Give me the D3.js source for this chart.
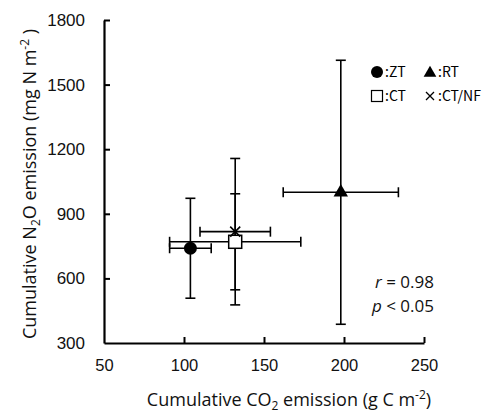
<!DOCTYPE html>
<html>
<head>
<meta charset="utf-8">
<script src="https://cdn.jsdelivr.net/npm/d3@7"></script>
<style>
  body { margin: 0; background: #fff; }
  svg { display: block; }
</style>
</head>
<body>
<div id="chart"></div>
<script>
// data
var treatments = ["ZT", "RT", "CT", "CT/NF"];
var co2 = [104, 198, 132, 132];
var co2Err = [13, 36, 41, 22];
var n2o = [740, 1000, 770, 817];
var n2oErr = [232, 613, 223, 340];
var xTicks = [50, 100, 150, 200, 250];
var yTicks = [300, 600, 900, 1200, 1500, 1800];

var W = 500, H = 414;
var svg = d3.select("#chart").append("svg").attr("width", W).attr("height", H);

var x = d3.scaleLinear().domain([50, 250]).range([104, 424]);
var y = d3.scaleLinear().domain([300, 1800]).range([343, 20]);

// axes, ticks pointing inward
var gx = svg.append("g").attr("transform", "translate(0," + y(300) + ")")
  .call(d3.axisBottom(x).tickValues(xTicks).tickFormat(d3.format("d"))
    .tickSizeInner(-6).tickSizeOuter(0).tickPadding(16));
var gy = svg.append("g").attr("transform", "translate(" + x(50) + ",0)")
  .call(d3.axisLeft(y).tickValues(yTicks).tickFormat(d3.format("d"))
    .tickSizeInner(-6).tickSizeOuter(0).tickPadding(19));
[gx, gy].forEach(function(g) {
  g.select(".domain").attr("stroke", "#000").attr("stroke-width", 2.2);
  g.selectAll(".tick line").attr("stroke", "#000").attr("stroke-width", 2);
  g.selectAll(".tick text").attr("fill", "#111")
    .style("font-family", "'Liberation Sans', Arial, sans-serif").style("font-size", "16.5px");
});
gy.selectAll(".tick text").style("font-size", "17px");
gx.selectAll(".tick").filter(function(d) { return d === 50; }).select("line").remove();
gy.selectAll(".tick").filter(function(d) { return d === 300; }).select("line").remove();

// error bars
var pts = treatments.map(function(t, i) {
  return { t: t, x: co2[i], xe: co2Err[i], y: n2o[i], ye: n2oErr[i] };
});
var cap = 5;
var eb = svg.append("g").attr("stroke", "#000").attr("stroke-width", 1.6).attr("fill", "none");
pts.forEach(function(p) {
  var cx = x(p.x), cy = y(p.y);
  var x0 = x(p.x - p.xe), x1 = x(p.x + p.xe), y0 = y(p.y + p.ye), y1 = y(p.y - p.ye);
  eb.append("line").attr("x1", x0).attr("x2", x1).attr("y1", cy).attr("y2", cy);
  eb.append("line").attr("x1", cx).attr("x2", cx).attr("y1", y0).attr("y2", y1);
  [x0, x1].forEach(function(v) {
    eb.append("line").attr("x1", v).attr("x2", v).attr("y1", cy - cap).attr("y2", cy + cap);
  });
  [y0, y1].forEach(function(v) {
    eb.append("line").attr("x1", cx - cap).attr("x2", cx + cap).attr("y1", v).attr("y2", v);
  });
});

// markers
function marker(g, t, cx, cy) {
  if (t === "ZT") {
    g.append("circle").attr("cx", cx).attr("cy", cy).attr("r", 6.5).attr("fill", "#000");
  } else if (t === "RT") {
    g.append("path").attr("transform", "translate(" + cx + "," + cy + ")")
      .attr("d", d3.symbol(d3.symbolTriangle, 90)()).attr("fill", "#000");
  } else if (t === "CT") {
    g.append("rect").attr("x", cx - 6.5).attr("y", cy - 6.5).attr("width", 13).attr("height", 13)
      .attr("fill", "#fff").attr("stroke", "#000").attr("stroke-width", 1.5);
  } else {
    g.append("path").attr("transform", "translate(" + cx + "," + cy + ")")
      .attr("d", "M-5,-5L5,5M-5,5L5,-5").attr("stroke", "#000").attr("stroke-width", 1.6);
  }
}
var mk = svg.append("g");
pts.forEach(function(p) { marker(mk, p.t, x(p.x), y(p.y)); });

// legend
var legPos = [[377, 72], [430, 72], [377, 96], [430, 96]];
var leg = svg.append("g");
treatments.forEach(function(t, i) {
  var lx = legPos[i][0], ly = legPos[i][1];
  var lg = leg.append("g");
  if (t === "ZT") lg.append("circle").attr("cx", lx).attr("cy", ly).attr("r", 6).attr("fill", "#000");
  else if (t === "RT") lg.append("path").attr("transform", "translate(" + lx + "," + (ly + 1) + ")")
    .attr("d", d3.symbol(d3.symbolTriangle, 70)()).attr("fill", "#000");
  else if (t === "CT") lg.append("rect").attr("x", lx - 5.5).attr("y", ly - 5.5).attr("width", 11).attr("height", 11)
    .attr("fill", "#fff").attr("stroke", "#000").attr("stroke-width", 1.2);
  else lg.append("path").attr("transform", "translate(" + lx + "," + ly + ")")
    .attr("d", "M-4,-4L4,4M-4,4L4,-4").attr("stroke", "#000").attr("stroke-width", 1.3);
  lg.append("text").attr("x", lx + 8).attr("y", ly + 5)
    .style("font-family", "'Noto Sans CJK JP', sans-serif").style("font-size", "14px")
    .text(":" + t);
});

// statistics
var st = svg.append("g").style("font-family", "'Open Sans', sans-serif").style("font-size", "17px")
  .attr("text-anchor", "end").attr("fill", "#111");
var t1 = st.append("text").attr("x", 434).attr("y", 288);
t1.append("tspan").style("font-style", "italic").text("r");
t1.append("tspan").text(" = 0.98");
var t2 = st.append("text").attr("x", 434).attr("y", 312);
t2.append("tspan").style("font-style", "italic").text("p");
t2.append("tspan").text(" < 0.05");

// axis titles
var xt = svg.append("text").attr("x", 289).attr("y", 406).attr("text-anchor", "middle")
  .style("font-family", "'Open Sans', sans-serif").style("font-size", "18px").attr("fill", "#111");
xt.append("tspan").text("Cumulative CO");
xt.append("tspan").attr("dy", 4).style("font-size", "12px").text("2");
xt.append("tspan").attr("dy", -4).text(" emission (g C m");
xt.append("tspan").attr("dy", -7).style("font-size", "12px").text("-2");
xt.append("tspan").attr("dy", 7).text(")");

var yt = svg.append("text").attr("transform", "translate(36,184) rotate(-90)").attr("text-anchor", "middle")
  .style("font-family", "'Open Sans', sans-serif").style("font-size", "18px").attr("fill", "#111");
yt.append("tspan").text("Cumulative N");
yt.append("tspan").attr("dy", 4).style("font-size", "12px").text("2");
yt.append("tspan").attr("dy", -4).text("O emission (mg N m");
yt.append("tspan").attr("dy", -7).style("font-size", "12px").text("-2");
yt.append("tspan").attr("dy", 7).text(" )");
</script>
</body>
</html>
